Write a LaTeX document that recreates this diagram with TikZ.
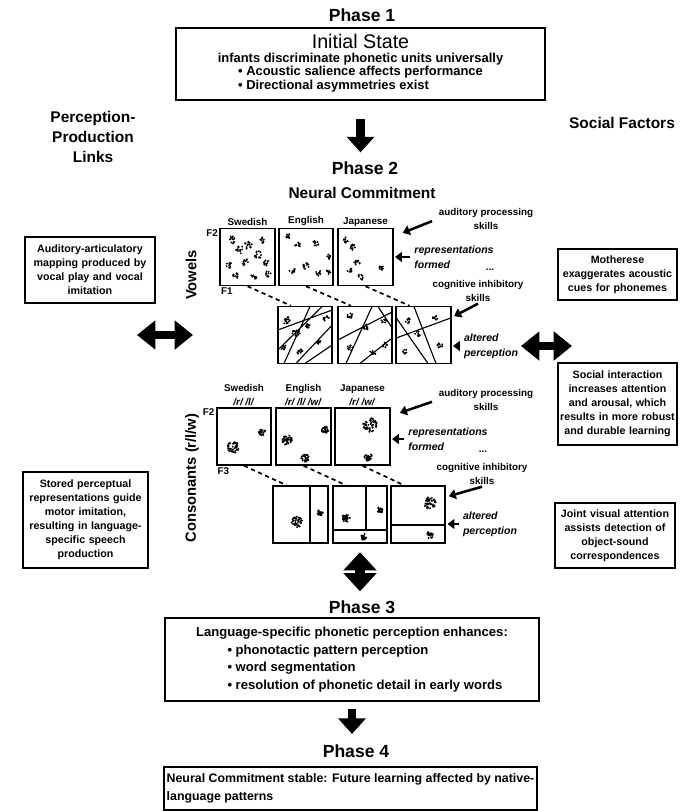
\documentclass[tikz,border=0pt]{standalone}
\usepackage{fontspec}
\setmainfont{Liberation Sans}
\usetikzlibrary{positioning,arrows.meta,calc}

\newcommand{\dotcloud}[4]{%
  \pgfmathtruncatemacro{\cnum}{1.6*#4}%
  \foreach \k in {1,...,\cnum}{%
    \pgfmathsetmacro{\cang}{360*rnd}%
    \pgfmathsetmacro{\crad}{#3*sqrt(rnd)}%
    \fill ({#1+\crad*cos(\cang)},{#2+\crad*sin(\cang)}) circle (0.75pt);
  }}

\tikzset{
  phasetitle/.style={font=\bfseries\fontsize{12.5}{14}\selectfont},
  phasebox/.style={draw, line width=1.2pt, inner sep=2pt},
  sidebox/.style={draw, line width=1pt, align=center, inner xsep=1pt, inner ysep=2pt, font=\bfseries\fontsize{7.6}{10}\selectfont},
  colhead/.style={font=\bfseries\fontsize{11}{14}\selectfont, align=center},
  plotbox/.style={draw, line width=1.2pt, minimum width=1.36cm, minimum height=1.42cm, inner sep=0pt},
  langlbl/.style={font=\bfseries\fontsize{7}{10}\selectfont, align=center, inner sep=1pt},
  axlbl/.style={font=\bfseries\fontsize{7}{8}\selectfont, inner sep=1pt},
  skilllbl/.style={font=\bfseries\fontsize{7}{10.5}\selectfont, align=center, inner sep=1pt},
  effectlbl/.style={font=\bfseries\itshape\fontsize{7.5}{10.5}\selectfont, align=left, inner sep=1pt},
  rowlbl/.style={font=\bfseries\fontsize{10.5}{12}\selectfont, rotate=90},
  lblarrow/.style={line width=1.8pt, -{Triangle[width=7pt,length=5pt]}},
  bigarrow/.style={line width=6pt, -{Triangle[width=19pt,length=11pt]}},
  bigdouble/.style={line width=5pt, {Triangle[width=20pt,length=13pt]}-{Triangle[width=20pt,length=13pt]}},
  projline/.style={line width=1.2pt, dash pattern=on 3pt off 2.5pt},
  cutline/.style={line width=0.8pt},
}

\begin{document}
\begin{tikzpicture}[x=0.025cm, y=-0.025cm]
\useasboundingbox (0,0) rectangle (680,811);
\pgfmathsetseed{4}

\node[phasetitle] (ph1) at (362,15) {Phase 1};
\node[phasebox, minimum width=9.225cm, minimum height=1.8cm, align=center, font=\bfseries\fontsize{9.2}{9.6}\selectfont] (box1) at (360.5,64)
  {{\mdseries\fontsize{14}{15}\selectfont Initial State}\\
   infants discriminate phonetic units universally\\
   \begin{tabular}{@{}l@{}}• Acoustic salience affects performance\\ • Directional asymmetries exist\end{tabular}};

\node[colhead] (perc) at (93,137) {Perception-\\Production\\Links};
\node[colhead] (soc) at (622,123) {Social Factors};

\node[phasetitle] (ph2) at (365,168) {Phase 2};
\node[font=\bfseries\fontsize{11}{12}\selectfont] (neural) at (362,193) {Neural Commitment};
\draw[bigarrow, shorten <=13pt, shorten >=3pt] (box1.south) -- (box1.south |- ph2.north);

% vowels
\node[plotbox] (vsw) at (247.5,257) {};
\node[plotbox] (ven) at (306,257) {};
\node[plotbox] (vja) at (365.5,257) {};
\node[langlbl, above=0pt of vsw] (vswl) {Swedish};
\node[langlbl, above=0pt of ven] (venl) {English};
\node[langlbl, above=0pt of vja] (vjal) {Japanese};
\node[axlbl, anchor=north east] (vf2) at (vsw.north west) {F2};
\node[axlbl, anchor=north west] (vf1) at (vsw.south west) {F1};

\node[plotbox] (va) at (305,335) {};
\node[plotbox] (vb) at (365,335) {};
\node[plotbox] (vc) at (423.5,335) {};

\foreach \cx/\cy/\cs/\cn in {232/240/4/9, 240/250/4/9, 229/265/3/7, 248/245/4/9, 258/255/4/9, 245/262/4/8, 266/263/3/7, 236/276/3/7, 254/276/3/7, 268/274/3/6, 262/240/3/6,
  289/236/3/7, 298/245/3/6, 316/243/3/6, 328/257/2.5/6, 292/270/3/7, 306/266/3/8, 318/273/3/6, 328/272/2.5/6,
  345/240/3/7, 353/247/3/7, 357/262/3/7, 350/270/3/6, 361/277/3/6, 381/268/2.5/7,
  286/320/4/10, 296/333/4/10, 284/348/3/8, 308/325/3/7, 300/352/3/7, 318/342/3/7, 326/318/3/6,
  350/316/3/7, 366/327/3/7, 384/320/3/6, 350/348/3/6, 373/352/3/6, 385/345/2.5/5,
  408/321/3/7, 418/334/3/6, 440/346/3/7, 405/352/2.5/5, 435/318/2.5/5}
  {\dotcloud{\cx}{\cy}{\cs}{\cn}}

\draw[cutline] (277.8,330) -- (332.2,310) (284,363.4) -- (310,306.6) (296,363.4) -- (332.2,325)
  (277.8,350) -- (322,306.6) (305,363.4) -- (332.2,345);
\draw[cutline] (337.8,340) -- (392.2,312) (346,363.4) -- (372,306.6) (360,363.4) -- (392.2,338)
  (378,306.6) -- (392.2,328);
\draw[cutline] (396.3,338) -- (450.7,318) (414,306.6) -- (436,363.4) (396.3,318) -- (428,363.4);

\draw[projline] (vsw.south) -- ($(va.north west)!0.5!(va.north)$);
\draw[projline] (ven.south) -- ($(vb.north west)!0.5!(vb.north)$);
\draw[projline] (vja.south) -- ($(vc.north west)!0.5!(vc.north)$);

\node[skilllbl] (vaud) at (486,219) {auditory processing\\skills};
\node[effectlbl] (vrep) at (454,257) {representations\\formed};
\node[axlbl] (vdots) at (490,270) {...};
\node[skilllbl] (vcog) at (478,291) {cognitive inhibitory\\skills};
\node[effectlbl] (valt) at (491,346) {altered\\perception};
\draw[lblarrow, shorten <=4pt, shorten >=7pt] (vaud.west) -- ($(vja.north east)!0.15!(vja.south east)$);
\draw[lblarrow, shorten <=2pt, shorten >=1pt] (vrep.west) -- (vja.east);
\draw[lblarrow, shorten >=2pt] (vcog.south) -- ($(vc.north east)!0.2!(vc.south east)$);
\draw[lblarrow, shorten <=2pt, shorten >=1pt] (valt.west) -- (vc.east |- valt.west);

\node[rowlbl] (vowlbl) at (191,275) {Vowels};

% consonants
\node[plotbox] (csw) at (244,436.5) {};
\node[plotbox] (cen) at (303.5,436.5) {};
\node[plotbox] (cja) at (362.5,436.5) {};
\node[langlbl, above=0pt of csw] (cswl) {Swedish\\\textit{/r/ /l/}};
\node[langlbl, above=0pt of cen] (cenl) {English\\\textit{/r/ /l/ /w/}};
\node[langlbl, above=0pt of cja] (cjal) {Japanese\\\textit{/r/ /w/}};
\node[axlbl, anchor=north east] (cf2) at (csw.north west) {F2};
\node[axlbl, anchor=north west] (cf3) at (csw.south west) {F3};

\node[plotbox] (ca) at (300.5,514.5) {};
\node[plotbox] (cb) at (360,514.5) {};
\node[plotbox] (cc) at (418,514.5) {};

\foreach \cx/\cy/\cs/\cn in {233/447/6/30, 262/432/3.5/15, 287/440/5/25, 325/430/3.5/18, 305/458/4/18,
  370/425/7/35, 368/457/4/18, 297/522/5.5/25, 320/513/3/14, 346/518/4/20, 380/510/3/15, 364/537/3/12,
  430/503/6/28, 430/535/3.5/14}
  {\dotcloud{\cx}{\cy}{\cs}{\cn}}

\draw[cutline] (310,486.1) -- (310,542.9);
\draw[cutline] (366,486.1) -- (366,530) (332.8,530) -- (387.2,530);
\draw[cutline] (390.8,525) -- (445.2,525);

\draw[projline] (csw.south) -- ($(ca.north west)!0.5!(ca.north)$);
\draw[projline] (cen.south) -- ($(cb.north west)!0.5!(cb.north)$);
\draw[projline] (cja.south) -- ($(cc.north west)!0.5!(cc.north)$);

\node[skilllbl] (caud) at (486,400) {auditory processing\\skills};
\node[effectlbl] (crep) at (448,439) {representations\\formed};
\node[axlbl] (cdots) at (483,452) {...};
\node[skilllbl] (ccog) at (482,474) {cognitive inhibitory\\skills};
\node[effectlbl] (calt) at (490,524) {altered\\perception};
\draw[lblarrow, shorten <=4pt, shorten >=7pt] (caud.west) -- ($(cja.north east)!0.15!(cja.south east)$);
\draw[lblarrow, shorten <=2pt, shorten >=1pt] (crep.west) -- (cja.east |- crep.west);
\draw[lblarrow, shorten >=2pt] (ccog.south) -- ($(cc.north east)!0.2!(cc.south east)$);
\draw[lblarrow, shorten <=2pt, shorten >=1pt] (calt.west) -- (cc.east |- calt.west);

\node[rowlbl] (conlbl) at (192,478) {Consonants (r/l/w)};

% side factors
\node[sidebox, text width=3.18cm, minimum height=1.65cm] (artic) at (90,270) {Auditory-articulatory\\mapping produced by\\vocal play and vocal\\imitation};
\node[sidebox, text width=3.05cm, minimum height=2.4cm] (stored) at (85.5,520) {Stored perceptual\\representations guide\\motor imitation,\\resulting in language-\\specific speech\\production};
\node[sidebox, text width=2.9cm, minimum height=1.275cm] (mother) at (617.5,274.5) {Motherese\\exaggerates acoustic\\cues for phonemes};
\node[sidebox, text width=2.9cm, minimum height=2.05cm] (socint) at (617.5,404) {Social interaction\\increases attention\\and arousal, which\\results in more robust\\and durable learning};
\node[sidebox, text width=2.93cm, minimum height=1.625cm] (joint) at (615,535.5) {Joint visual attention\\assists detection of\\object-sound\\correspondences};

\coordinate (pl1) at (137,335);
\coordinate (pl2) at (193,335);
\draw[bigdouble] (pl1) -- (pl2);
\coordinate (sf1) at (521,346);
\coordinate (sf2) at (572,346);
\draw[bigdouble] (sf1) -- (sf2);

% phases 3 and 4
\node[phasetitle] (ph3) at (362,607) {Phase 3};
\draw[bigdouble, line width=7pt, {Triangle[width=23pt,length=13pt]}-{Triangle[width=23pt,length=13pt]}, shorten <=6pt, shorten >=3pt] (cb.south) -- (cb.south |- ph3.north);
\node[phasebox, minimum width=9.35cm, minimum height=2.075cm, align=left, font=\bfseries\fontsize{9.3}{12.5}\selectfont] (box3) at (352,659.5)
  {Language-specific phonetic perception enhances:\\
   \hspace*{2.4em}• phonotactic pattern perception\\
   \hspace*{2.4em}• word segmentation\\
   \hspace*{2.4em}• resolution of phonetic detail in early words};

\node[phasetitle] (ph4) at (356,751) {Phase 4};
\draw[bigarrow, shorten <=5pt, shorten >=4pt] (box3.south) -- (box3.south |- ph4.north);
\node[phasebox, minimum width=9.325cm, minimum height=1.075cm, align=left, font=\bfseries\fontsize{8.8}{12.5}\selectfont] (box4) at (350.5,788.5)
  {Neural Commitment stable: Future learning affected by native-\\language patterns};
\end{tikzpicture}
\end{document}
